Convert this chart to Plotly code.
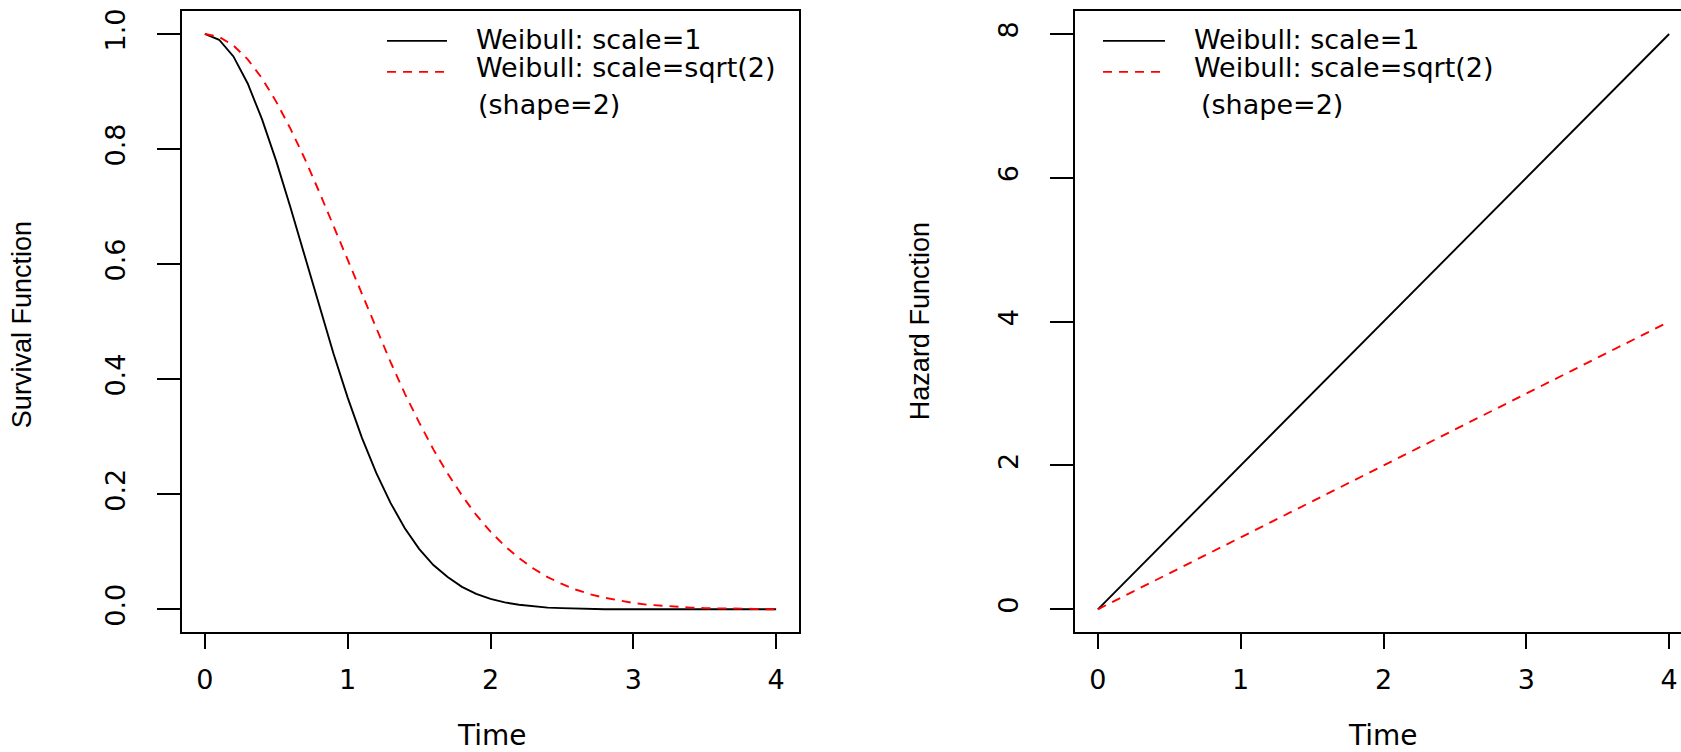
import plotly.graph_objects as go

# ---------------- data ----------------
time = [0.0, 0.1, 0.2, 0.3, 0.4, 0.5, 0.6, 0.7, 0.8, 0.9,
        1.0, 1.1, 1.2, 1.3, 1.4, 1.5, 1.6, 1.7, 1.8, 1.9,
        2.0, 2.1, 2.2, 2.3, 2.4, 2.5, 2.6, 2.7, 2.8, 2.9,
        3.0, 3.1, 3.2, 3.3, 3.4, 3.5, 3.6, 3.7, 3.8, 3.9, 4.0]
survival_scale1 = [1.000, 0.990, 0.961, 0.914, 0.852, 0.779, 0.698, 0.613, 0.527, 0.445,
                   0.368, 0.298, 0.237, 0.185, 0.141, 0.105, 0.077, 0.056, 0.039, 0.027,
                   0.018, 0.012, 0.008, 0.005, 0.003, 0.002, 0.001, 0.001, 0.000, 0.000,
                   0.000, 0.000, 0.000, 0.000, 0.000, 0.000, 0.000, 0.000, 0.000, 0.000, 0.000]
survival_sqrt2 = [1.000, 0.995, 0.980, 0.956, 0.923, 0.882, 0.835, 0.783, 0.726, 0.667,
                  0.607, 0.546, 0.487, 0.430, 0.375, 0.325, 0.278, 0.236, 0.198, 0.164,
                  0.135, 0.110, 0.089, 0.071, 0.056, 0.044, 0.034, 0.026, 0.020, 0.015,
                  0.011, 0.008, 0.006, 0.004, 0.003, 0.002, 0.002, 0.001, 0.001, 0.000, 0.000]
hazard_time = [0.0, 4.0]
hazard_scale1 = [0.0, 8.0]
hazard_sqrt2 = [0.0, 4.0]

x_ticks = [0, 1, 2, 3, 4]
surv_ticks = [0.0, 0.2, 0.4, 0.6, 0.8, 1.0]
haz_ticks = [0, 2, 4, 6, 8]
legend_labels = ["Weibull: scale=1", "Weibull: scale=sqrt(2)"]
legend_note = "(shape=2)"

# ---------------- layout helpers ----------------
W, H = 1681, 752
FONT = "DejaVu Sans"


def px(x):
    return x / W


def py(y):
    return 1 - y / H


# left panel box (pixels)
L0, L1, T0, B0 = 182, 799, 9, 632
# right panel box
R0 = 1075
unit = (L1 - L0) / 4.32  # px per x unit

xr_left = [-0.16, 4.16]
xr_right = [-0.16, -0.16 + (W - R0) / unit]

fig = go.Figure()

BLACK = "#000000"
RED = "#ff0000"
DASH = "9px,7px"

fig.add_trace(go.Scatter(x=time, y=survival_scale1, mode="lines",
                         line=dict(color=BLACK, width=1.9), xaxis="x", yaxis="y",
                         showlegend=False, hoverinfo="skip"))
fig.add_trace(go.Scatter(x=time, y=survival_sqrt2, mode="lines",
                         line=dict(color=RED, width=1.9, dash=DASH), xaxis="x", yaxis="y",
                         showlegend=False, hoverinfo="skip"))
fig.add_trace(go.Scatter(x=hazard_time, y=hazard_scale1, mode="lines",
                         line=dict(color=BLACK, width=1.9), xaxis="x2", yaxis="y2",
                         showlegend=False, hoverinfo="skip"))
fig.add_trace(go.Scatter(x=hazard_time, y=hazard_sqrt2, mode="lines",
                         line=dict(color=RED, width=1.9, dash=DASH), xaxis="x2", yaxis="y2",
                         showlegend=False, hoverinfo="skip"))


# legend text as clipped text traces (R clips legend text to the plot region)
def to_data(xpix, ypix, xr, x_left_px, yr):
    xv = xr[0] + (xpix - x_left_px) / unit
    yv = yr[0] + (B0 - ypix) / (B0 - T0) * (yr[1] - yr[0])
    return xv, yv


yr_left = [-0.04, 1.04]
yr_right = [-0.32, 8.32]

panels = [
    dict(xa="x", ya="y", xr=xr_left, x0=L0, yr=yr_left, line_x=(387, 447), text_x=476, note_x=478),
    dict(xa="x2", ya="y2", xr=xr_right, x0=R0, yr=yr_right, line_x=(1103, 1165), text_x=1194, note_x=1201),
]
rows_y = [40, 68]
line_y = [39, 70]
note_y = 106
LEG_SIZE = 27

shapes = []
for p in panels:
    for i, lab in enumerate(legend_labels):
        xv, yv = to_data(p["text_x"], rows_y[i], p["xr"], p["x0"], p["yr"])
        fig.add_trace(go.Scatter(x=[xv], y=[yv], mode="text", text=[lab],
                                 textposition="middle right", cliponaxis=True,
                                 textfont=dict(family=FONT, size=LEG_SIZE, color=BLACK),
                                 xaxis=p["xa"], yaxis=p["ya"], showlegend=False, hoverinfo="skip"))
        shapes.append(dict(type="line", xref="paper", yref="paper",
                           x0=px(p["line_x"][0]), x1=px(p["line_x"][1]),
                           y0=py(line_y[i]), y1=py(line_y[i]),
                           line=dict(color=BLACK if i == 0 else RED, width=1.7,
                                     dash="solid" if i == 0 else DASH)))
    xv, yv = to_data(p["note_x"], note_y, p["xr"], p["x0"], p["yr"])
    fig.add_trace(go.Scatter(x=[xv], y=[yv], mode="text", text=[legend_note],
                             textposition="middle right", cliponaxis=True,
                             textfont=dict(family=FONT, size=LEG_SIZE, color=BLACK),
                             xaxis=p["xa"], yaxis=p["ya"], showlegend=False, hoverinfo="skip"))

axis_common = dict(showgrid=False, zeroline=False, showline=True, linecolor=BLACK, linewidth=2,
                   ticks="outside", tickcolor=BLACK, tickwidth=2, ticklabeloverflow="allow",
                   tickfont=dict(family=FONT, size=27, color=BLACK))

fig.update_layout(
    width=W, height=H,
    margin=dict(l=0, r=0, t=0, b=0),
    paper_bgcolor="white", plot_bgcolor="white",
    showlegend=False,
    shapes=shapes,
    xaxis=dict(domain=[px(L0), px(L1)], range=xr_left, tickvals=x_ticks, ticklen=15,
               mirror=True, anchor="y", ticklabelstandoff=7, **axis_common),
    yaxis=dict(domain=[py(B0), py(T0)], range=yr_left, tickvals=surv_ticks, tickformat=".1f",
               ticklen=23, tickangle=-90, mirror=True, anchor="x", ticklabelstandoff=21,
               **axis_common),
    xaxis2=dict(domain=[px(R0), 1.0], range=xr_right, tickvals=x_ticks, ticklen=15,
                mirror=True, anchor="y2", ticklabelstandoff=7, **axis_common),
    yaxis2=dict(domain=[py(B0), py(T0)], range=yr_right, tickvals=haz_ticks, tickformat="d",
                ticklen=23, tickangle=-90, mirror=False, anchor="x2", ticklabelstandoff=21,
                **axis_common),
    annotations=[
        dict(text="Time", xref="paper", yref="paper", x=px(492), y=py(735), showarrow=False,
             xanchor="center", yanchor="middle", font=dict(family=FONT, size=28, color=BLACK)),
        dict(text="Time", xref="paper", yref="paper", x=px(1383), y=py(735), showarrow=False,
             xanchor="center", yanchor="middle", font=dict(family=FONT, size=28, color=BLACK)),
        dict(text="Survival Function", xref="paper", yref="paper", x=px(22), y=py(324),
             showarrow=False, textangle=-90, xanchor="center", yanchor="middle",
             font=dict(family="Liberation Sans", size=27, color=BLACK)),
        dict(text="Hazard Function", xref="paper", yref="paper", x=px(920), y=py(320),
             showarrow=False, textangle=-90, xanchor="center", yanchor="middle",
             font=dict(family="Liberation Sans", size=27, color=BLACK)),
    ],
)

fig.write_html("out.html", config={"displayModeBar": False},
               post_script="document.body.style.margin='0px';document.body.style.overflow='hidden';")
